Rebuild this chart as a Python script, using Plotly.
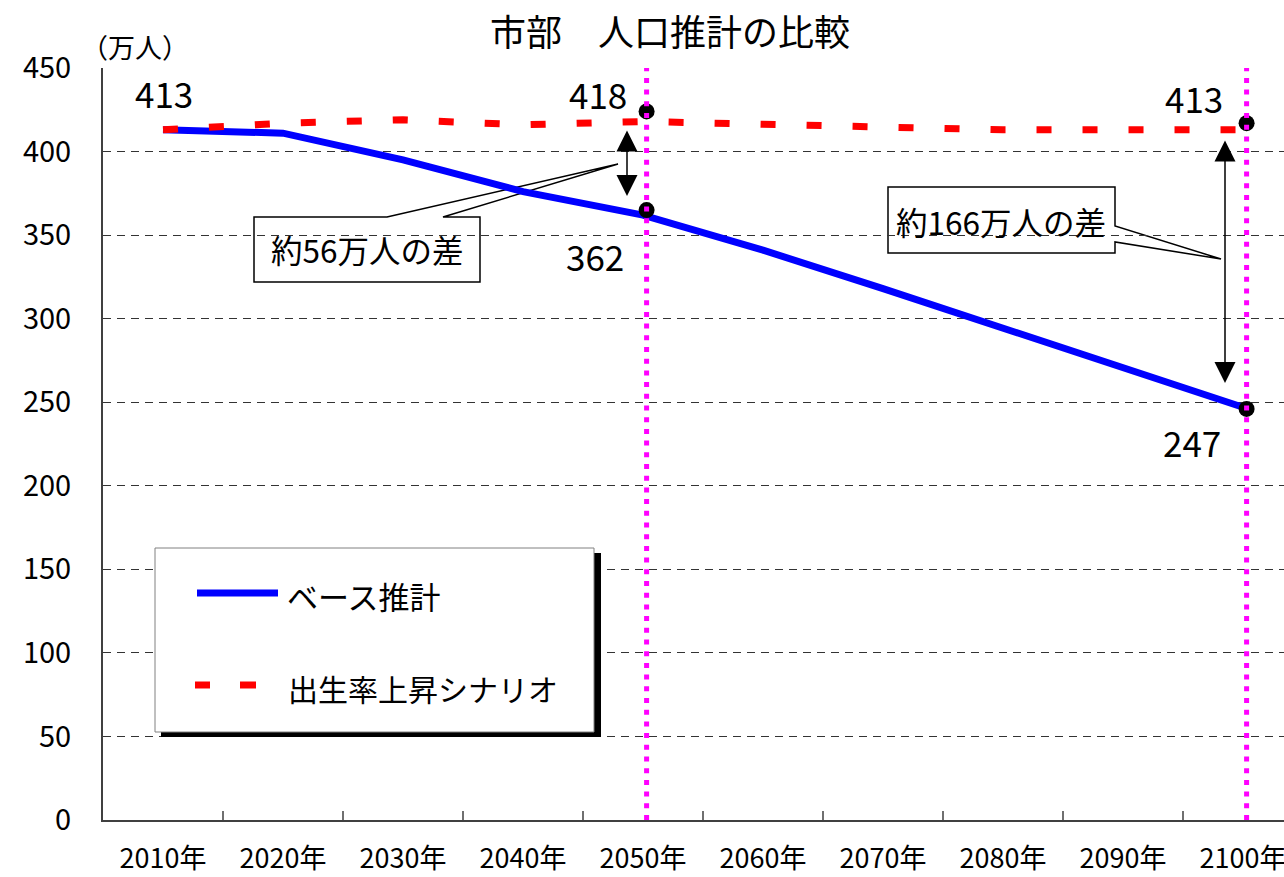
import plotly.graph_objects as go

# ---- data ----
years = [2010, 2020, 2030, 2040, 2050, 2060, 2070, 2080, 2090, 2100]
tick_labels = ["2010年", "2020年", "2030年", "2040年", "2050年",
               "2060年", "2070年", "2080年", "2090年", "2100年"]
base_est = [413, 411, 395, 376, 362, 341, 318, 294, 270, 247]
high_birth = [413, 417, 419, 416, 418, 416, 414, 413, 413, 413]
highlight_years = [2050, 2100]
highlight_marker_x = [2050, 2050, 2100, 2100]
highlight_marker_y = [424, 365, 417, 246]
minor_tick_years = [2015, 2025, 2035, 2045, 2055, 2065, 2075, 2085, 2095]
y_ticks = [0, 50, 100, 150, 200, 250, 300, 350, 400, 450]

FONT = "Noto Sans CJK JP, Noto Sans, sans-serif"
W, H = 1284, 877
L, T, B, R = 103, 68, 820, 1284
HL_SHIFT = 0.3  # highlight guides sit slightly right of the category centre in the original


def px(x):
    return (x - L) / (R - L)


def py(y):
    return (B - y) / (B - T)


fig = go.Figure()

fig.add_trace(go.Scatter(
    x=years, y=base_est, mode="lines", name="ベース推計",
    line=dict(color="#0000FF", width=7), showlegend=False,
))
fig.add_trace(go.Scatter(
    x=years, y=high_birth, mode="lines", name="出生率上昇シナリオ",
    line=dict(color="#FF0000", width=7, dash="15px,31px"), showlegend=False,
))
fig.add_trace(go.Scatter(
    x=[v + HL_SHIFT for v in highlight_marker_x], y=highlight_marker_y, mode="markers",
    marker=dict(color="black", size=16), showlegend=False, hoverinfo="skip",
))

shapes = []
for yr in highlight_years:
    shapes.append(dict(type="line", xref="x", yref="paper",
                       x0=yr + HL_SHIFT, x1=yr + HL_SHIFT, y0=0, y1=1,
                       line=dict(color="#FF00FF", width=5, dash="5px,6.7px"), layer="above"))


def path(points):
    return "M " + " L ".join(f"{px(a):.5f},{py(b):.5f}" for a, b in points) + " Z"


callout1 = [(254, 217), (387, 217), (618, 164), (443, 217), (480, 217), (480, 282), (254, 282)]
callout2 = [(888, 187), (1115, 187), (1115, 226), (1221, 259), (1115, 242), (1115, 253), (888, 253)]
for pts in (callout1, callout2):
    shapes.append(dict(type="path", xref="paper", yref="paper", path=path(pts),
                       fillcolor="white", line=dict(color="black", width=1.5), layer="between"))

# legend box with shadow
shapes.append(dict(type="rect", xref="paper", yref="paper",
                   x0=px(161), x1=px(601), y0=py(737), y1=py(553),
                   fillcolor="black", line=dict(width=0), layer="above"))
shapes.append(dict(type="rect", xref="paper", yref="paper",
                   x0=px(155), x1=px(594), y0=py(732), y1=py(548),
                   fillcolor="white", line=dict(color="#808080", width=1), layer="above"))
shapes.append(dict(type="line", xref="paper", yref="paper",
                   x0=px(197), x1=px(278), y0=py(593), y1=py(593),
                   line=dict(color="#0000FF", width=7), layer="above"))
for a, b in ((195, 210), (240, 256)):
    shapes.append(dict(type="rect", xref="paper", yref="paper",
                       x0=px(a), x1=px(b), y0=py(688.5), y1=py(681.5),
                       fillcolor="#FF0000", line=dict(width=0), layer="above"))

annotations = []
label_specs = [
    (years[0], base_est[0], 1, 37),
    (years[4], high_birth[4], -45, 28),
    (years[4], base_est[4], -48, -40),
    (years[9], high_birth[9], -49, 32),
    (years[9], base_est[9], -51, -34),
]
for xv, yv, xs, ys in label_specs:
    annotations.append(dict(x=xv, y=yv, xref="x", yref="y", text=str(yv), showarrow=False,
                            xanchor="center", yanchor="middle",
                            xshift=xs, yshift=ys, font=dict(family=FONT, size=35, color="black")))

gap1 = high_birth[4] - base_est[4]
gap2 = high_birth[9] - base_est[9]
annotations.append(dict(x=px(367), y=py(249), xref="paper", yref="paper",
                        xanchor="center", yanchor="middle",
                        text=f"約{gap1}万人の差", showarrow=False,
                        font=dict(family=FONT, size=31.5, color="black")))
annotations.append(dict(x=px(1001), y=py(221), xref="paper", yref="paper",
                        xanchor="center", yanchor="middle",
                        text=f"約{gap2}万人の差", showarrow=False,
                        font=dict(family=FONT, size=31.5, color="black")))

for xa, ytop, ybot in ((627, 129, 196), (1225, 139, 383)):
    annotations.append(dict(x=px(xa), y=py(ybot), xref="paper", yref="paper",
                            ax=0, ay=-(ybot - ytop), text="", showarrow=True,
                            arrowside="end+start", arrowhead=2, startarrowhead=2,
                            arrowsize=2.8, startarrowsize=2.8, arrowwidth=1.5,
                            arrowcolor="black", standoff=0, startstandoff=0))

annotations.append(dict(x=px(285), y=py(595), xref="paper", yref="paper",
                        xanchor="left", yanchor="middle",
                        text="ベース推計", showarrow=False,
                        font=dict(family=FONT, size=31, color="black")))
annotations.append(dict(x=px(286), y=py(688), xref="paper", yref="paper",
                        xanchor="left", yanchor="middle",
                        text="出生率上昇シナリオ", showarrow=False,
                        font=dict(family=FONT, size=30, color="black")))

annotations.append(dict(x=px(79), y=py(47), xref="paper", yref="paper",
                        xanchor="left", yanchor="middle",
                        text="（万人）", showarrow=False,
                        font=dict(family=FONT, size=27, color="black")))

fig.update_layout(
    width=W, height=H,
    margin=dict(l=L, r=W - R, t=T, b=H - B, autoexpand=False),
    paper_bgcolor="white", plot_bgcolor="white",
    title=dict(text="市部　人口推計の比較", x=670 / W, y=1 - 33 / H,
               xanchor="center", yanchor="middle",
               font=dict(family=FONT, size=36, color="black")),
    showlegend=False,
    shapes=shapes, annotations=annotations,
    xaxis=dict(range=[2005, 2005 + (R - L) / 12], tickmode="array",
               tickvals=years, ticktext=tick_labels, ticks="",
               showgrid=False, zeroline=False,
               showline=True, linecolor="#404040", linewidth=2,
               tickfont=dict(family=FONT, size=27, color="black"),
               ticklabelstandoff=14, ticklabeloverflow="allow", automargin=False,
               minor=dict(tickmode="array", tickvals=minor_tick_years,
                          ticks="inside", ticklen=9, tickwidth=2,
                          tickcolor="#707070", showgrid=False)),
    yaxis=dict(range=[0, 450], tickmode="array", tickvals=y_ticks, ticks="",
               showgrid=True, gridcolor="#333333", gridwidth=1, griddash="8px,6px",
               zeroline=False, showline=True, linecolor="#404040", linewidth=2,
               tickfont=dict(family=FONT, size=29, color="black"),
               ticklabelstandoff=24, automargin=False),
)

fig.write_html("out.html", config={"displayModeBar": False},
               post_script="document.body.style.margin='0px';")
